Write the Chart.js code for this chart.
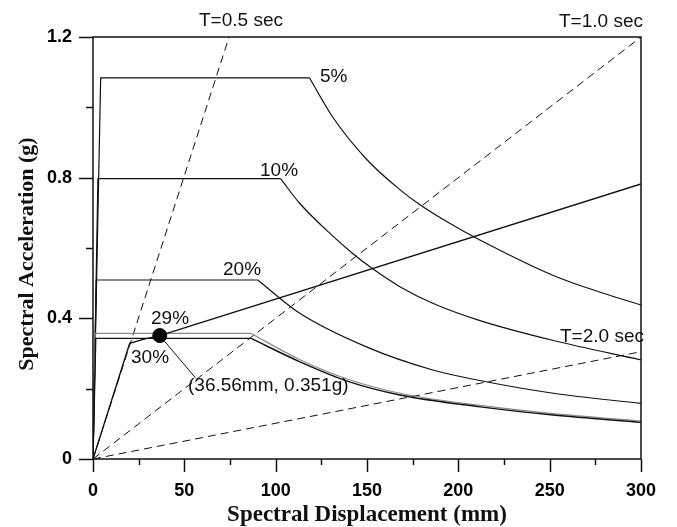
<!DOCTYPE html>
<html lang="en">
<head>
  <meta charset="UTF-8">
  <title>Capacity Spectrum</title>
  <script src="https://cdn.jsdelivr.net/npm/chart.js"></script>
  <style>
    body {
      margin: 0;
      background: #ffffff;
    }
    canvas {
      display: block;
    }
  </style>
</head>
<body>

<canvas id="graficoEspectro" width="677" height="527"></canvas>

<script>
  // demand spectra: [Sd (mm), Sa (g)], third point is the corner
  const damp5 = [[0, 0], [4.2, 1.084], [118.5, 1.084], [131, 0.974], [150, 0.851], [168, 0.766], [179, 0.723], [195, 0.671], [211, 0.625], [252, 0.522], [279, 0.472], [300, 0.438]];
  const damp10 = [[0, 0], [2.7, 0.797], [102.7, 0.797], [113, 0.728], [130, 0.640], [142, 0.585], [152, 0.545], [168, 0.490], [186, 0.443], [211, 0.395], [252, 0.337], [300, 0.282]];
  const damp20 = [[0, 0], [1.8, 0.509], [90.2, 0.509], [113, 0.415], [150, 0.318], [186, 0.253], [211, 0.224], [252, 0.187], [300, 0.158]];
  const damp29 = [[0, 0], [1.2, 0.357], [86.6, 0.357], [113, 0.283], [140, 0.226], [168, 0.187], [211, 0.153], [252, 0.129], [300, 0.108]];
  const damp30 = [[0, 0], [1.5, 0.343], [86.6, 0.343], [113, 0.277], [140, 0.220], [168, 0.182], [211, 0.149], [252, 0.125], [300, 0.104]];

  // capacity curve and performance point
  const capacidade = [[0, 0], [20.1, 0.329], [28, 0.341], [36.56, 0.351], [300, 0.782]];
  const pontoDesempenho = [[36.56, 0.351]];
  const linhaChamada = [[36.56, 0.351], [56.2, 0.230]];

  // constant period lines
  const periodo05 = [[0, 0], [74.5, 1.2]];
  const periodo10 = [[0, 0], [300, 1.2]];
  const periodo20 = [[0, 0], [300, 0.305]];

  const xTicks = [0, 50, 100, 150, 200, 250, 300];
  const yTicks = [0, 0.4, 0.8, 1.2];

  const pts = arr => arr.map(p => ({ x: p[0], y: p[1] }));
  const cor = '#111111';

  function linha(data, extra) {
    return Object.assign({
      data: pts(data),
      showLine: true,
      borderColor: cor,
      borderWidth: 1.2,
      pointRadius: 0,
      fill: false,
      tension: 0
    }, extra || {});
  }

  // each demand curve: straight part up to corner, smooth decay after it
  function espectro(arr, extra) {
    return [
      linha(arr.slice(0, 3), extra),
      linha(arr.slice(2), Object.assign({ cubicInterpolationMode: 'monotone' }, extra || {}))
    ];
  }

  const textos = [
    { t: 'T=0.5 sec', x: 199, y: 21 },
    { t: 'T=1.0 sec', x: 559, y: 22 },
    { t: 'T=2.0 sec', x: 560, y: 337 },
    { t: '5%', x: 320, y: 77 },
    { t: '10%', x: 260, y: 171 },
    { t: '20%', x: 223, y: 270 },
    { t: '29%', x: 151, y: 319 },
    { t: '30%', x: 131, y: 358 },
    { t: '(36.56mm, 0.351g)', x: 188, y: 386 }
  ];

  const molduraPlugin = {
    id: 'moldura',
    afterDraw(chart) {
      const ctx = chart.ctx;
      const a = chart.chartArea;
      const sx = chart.scales.x;
      const sy = chart.scales.y;
      ctx.save();
      ctx.strokeStyle = cor;
      ctx.lineWidth = 1.5;
      ctx.strokeRect(a.left, a.top, a.right - a.left, a.bottom - a.top);

      // ticks, major and minor
      ctx.beginPath();
      for (let v = 0; v <= 300; v += 25) {
        const px = Math.round(sx.getPixelForValue(v)) + 0.5;
        const len = v % 50 === 0 ? 13 : 6;
        ctx.moveTo(px, a.bottom);
        ctx.lineTo(px, a.bottom + len);
      }
      for (let i = 0; i <= 6; i++) {
        const py = Math.round(sy.getPixelForValue(i * 0.2)) + 0.5;
        const len = i % 2 === 0 ? 14 : 7;
        ctx.moveTo(a.left, py);
        ctx.lineTo(a.left - len, py);
      }
      ctx.stroke();

      // annotations
      ctx.fillStyle = cor;
      ctx.font = '19px "Liberation Sans", Arial, sans-serif';
      ctx.textAlign = 'left';
      ctx.textBaseline = 'middle';
      textos.forEach(o => ctx.fillText(o.t, o.x, o.y));

      // axis titles
      ctx.font = 'bold 23px "Liberation Serif", "Times New Roman", serif';
      ctx.textAlign = 'center';
      ctx.textBaseline = 'alphabetic';
      ctx.fillText('Spectral Displacement (mm)', (a.left + a.right) / 2, 521);

      ctx.font = 'bold 22px "Liberation Serif", "Times New Roman", serif';
      ctx.translate(33, 254);
      ctx.rotate(-Math.PI / 2);
      ctx.fillText('Spectral Acceleration (g)', 0, 0);
      ctx.restore();
    }
  };

  const ctxEspectro = document.getElementById('graficoEspectro').getContext('2d');
  new Chart(ctxEspectro, {
    type: 'scatter',
    data: {
      datasets: [
        { data: pts(pontoDesempenho), pointRadius: 7, pointBackgroundColor: '#000', pointBorderColor: '#000', showLine: false },
        linha(linhaChamada, { borderWidth: 1 }),
        linha(capacidade, { borderWidth: 1.4 }),
        ...espectro(damp30, { borderWidth: 1.4 }),
        ...espectro(damp29, { borderColor: '#8a8a8a', borderWidth: 1.2 }),
        ...espectro(damp20),
        ...espectro(damp10),
        ...espectro(damp5),
        linha(periodo05, { borderDash: [8, 5], borderWidth: 1 }),
        linha(periodo10, { borderDash: [8, 5], borderWidth: 1 }),
        linha(periodo20, { borderDash: [8, 5], borderWidth: 1 })
      ]
    },
    options: {
      responsive: false,
      animation: false,
      devicePixelRatio: 1,
      layout: {
        padding: { left: 0, right: 35, top: 37, bottom: 0 }
      },
      plugins: {
        legend: { display: false },
        tooltip: { enabled: false }
      },
      scales: {
        x: {
          type: 'linear',
          min: 0,
          max: 300,
          afterFit(scale) { scale.height = 68; },
          afterBuildTicks(scale) { scale.ticks = xTicks.map(v => ({ value: v })); },
          grid: { display: false, drawTicks: false },
          border: { display: false },
          ticks: {
            padding: 21,
            color: '#000',
            maxRotation: 0,
            font: { family: '"Liberation Sans", Arial, sans-serif', size: 18, weight: 'bold' }
          }
        },
        y: {
          type: 'linear',
          min: 0,
          max: 1.2,
          afterFit(scale) { scale.width = 93; },
          afterBuildTicks(scale) { scale.ticks = yTicks.map(v => ({ value: v })); },
          grid: { display: false, drawTicks: false },
          border: { display: false },
          ticks: {
            padding: 21,
            color: '#000',
            font: { family: '"Liberation Sans", Arial, sans-serif', size: 18, weight: 'bold' },
            callback: v => (v === 0 ? '0' : v.toFixed(1))
          }
        }
      }
    },
    plugins: [molduraPlugin]
  });
</script>

</body>
</html>
